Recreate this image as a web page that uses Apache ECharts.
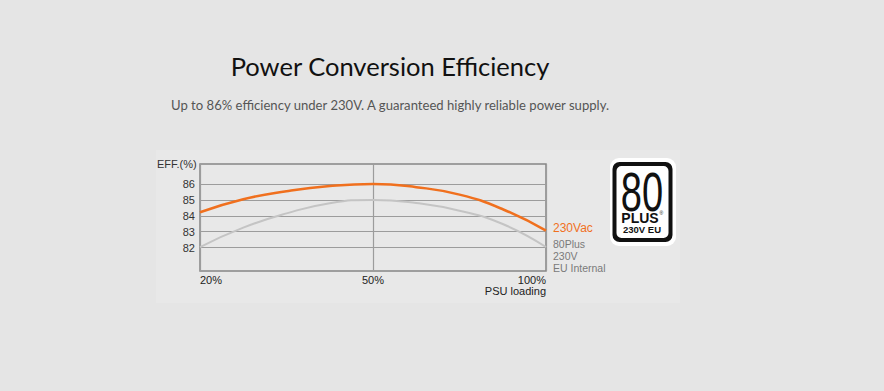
<!DOCTYPE html>
<html>
<head>
<meta charset="utf-8">
<script src="https://cdn.jsdelivr.net/npm/echarts@6/dist/echarts.min.js"></script>
<style>
html,body{margin:0;padding:0;background:#e5e5e5;}
#c{width:884px;height:391px;}
</style>
</head>
<body>
<div id="c"></div>
<script>
// ---- data ----
var xTickLabels = ['20%', '50%', '100%'];
// load position in tick-index units (0 = 20%, 1 = 50%, 2 = 100%)
var loadPos   = [0, 0.25, 0.5, 0.75, 1, 1.25, 1.5, 1.75, 2];
var eff230Vac = [84.22, 85.04, 85.54, 85.87, 86.0, 85.80, 85.33, 84.41, 83.06];
var eff80Plus = [82.03, 83.25, 84.15, 84.79, 85.0, 84.80, 84.32, 83.48, 82.03];
var yTickValues = [82, 83, 84, 85, 86];
var yMin = 80.52, yMax = 87.26;

function pairs(xs, ys){ return xs.map(function(x,i){ return [x, ys[i]]; }); }

var chart = echarts.init(document.getElementById('c'), null, {renderer:'svg'});
chart.setOption({
  animation: false,
  backgroundColor: '#e5e5e5',
  title: [{
    text: 'Power Conversion Efficiency',
    left: 385, top: 48, textAlign: 'center',
    textStyle: {fontFamily: 'Lato', fontSize: 25.5, fontWeight: 'normal', color: '#111'}
  },{
    text: 'Up to 86% efficiency under 230V. A guaranteed highly reliable power supply.',
    left: 385, top: 93, textAlign: 'center',
    textStyle: {fontFamily: 'Lato', fontSize: 13.1, fontWeight: 'normal', color: '#555'}
  }],
  grid: {left: 200, top: 164, width: 346, height: 107, show: true,
         borderColor: '#858585', borderWidth: 1.5, backgroundColor: 'transparent'},
  xAxis: {
    type: 'value', min: 0, max: 2, interval: 1,
    axisLine: {show: false}, axisTick: {show: false},
    splitLine: {show: true, lineStyle: {color: '#9c9c9c', width: 1.2}},
    axisLabel: {
      formatter: function(v){ return xTickLabels[v] || ''; },
      alignMinLabel: 'left', alignMaxLabel: 'right',
      margin: 3, fontSize: 11, color: '#222', fontFamily: 'Liberation Sans'
    }
  },
  yAxis: {
    type: 'value', min: yMin, max: yMax,
    axisLine: {show: false}, axisTick: {show: false},
    splitLine: {show: false},
    axisLabel: {
      formatter: function(v){ return yTickValues.indexOf(v) >= 0 ? String(v) : ''; },
      margin: 5, fontSize: 11, color: '#333', fontFamily: 'Liberation Sans'
    }
  },
  series: [{
    name: '80Plus 230V EU Internal',
    type: 'line', z: 3, smooth: true, symbol: 'none',
    data: pairs(loadPos, eff80Plus),
    lineStyle: {color: '#c4c4c4', width: 2},
    endLabel: {show: true, formatter: '80Plus\n230V\nEU Internal', distance: 7, offset: [0, 9],
               fontSize: 10.5, lineHeight: 12.2, color: '#7a7a7a', fontFamily: 'Liberation Sans'},
    markLine: {
      silent: true, z: 1, symbol: 'none', label: {show: false},
      lineStyle: {color: '#9c9c9c', width: 1.2, type: 'solid'},
      data: yTickValues.map(function(v){ return {yAxis: v}; })
    }
  },{
    name: '230Vac',
    type: 'line', z: 4, smooth: true, symbol: 'none',
    data: pairs(loadPos, eff230Vac),
    lineStyle: {color: '#f0701e', width: 2.5},
    endLabel: {show: true, formatter: '230Vac', distance: 7, offset: [0, -3],
               fontSize: 12, color: '#f0701e', fontFamily: 'Liberation Sans'}
  }],
  graphic: [
    {type: 'rect', z: -10, shape: {x: 156, y: 150, width: 524, height: 153}, style: {fill: '#e8e8e8'}},
    {type: 'text', left: 157, top: 158, style: {text: 'EFF.(%)', fontSize: 11, fill: '#333', fontFamily: 'Liberation Sans'}},
    {type: 'text', right: 338, top: 285, style: {text: 'PSU loading', fontSize: 11, fill: '#222', fontFamily: 'Liberation Sans'}},
    // 80 PLUS badge
    {type: 'group', left: 610, top: 158, children: [
      {type: 'rect', shape: {x: 0, y: 0, width: 66, height: 88, r: 9}, style: {fill: '#ffffff'}},
      {type: 'rect', shape: {x: 2.5, y: 4, width: 60, height: 80, r: 7}, style: {fill: '#111111'}},
      {type: 'rect', shape: {x: 6.5, y: 8, width: 52, height: 72, r: 5}, style: {fill: '#ffffff'}},
      {type: 'text', x: 32, y: 34, scaleX: 0.68,
       style: {text: '80', fontSize: 56, fill: '#111', fontFamily: 'Liberation Sans', align: 'center', verticalAlign: 'middle'}},
      {type: 'text', x: 30, y: 59.5, style: {text: 'PLUS', fontSize: 14, fontWeight: 'bold', fill: '#111', fontFamily: 'Liberation Sans', align: 'center', verticalAlign: 'middle'}},
      {type: 'text', x: 49.5, y: 55, style: {text: '®', fontSize: 5, fill: '#111', fontFamily: 'Liberation Sans', align: 'left', verticalAlign: 'middle'}},
      {type: 'text', x: 32, y: 71.5, style: {text: '230V EU', fontSize: 9.5, fontWeight: 'bold', fill: '#111', fontFamily: 'Liberation Sans', align: 'center', verticalAlign: 'middle'}}
    ]}
  ]
});
</script>
</body>
</html>
